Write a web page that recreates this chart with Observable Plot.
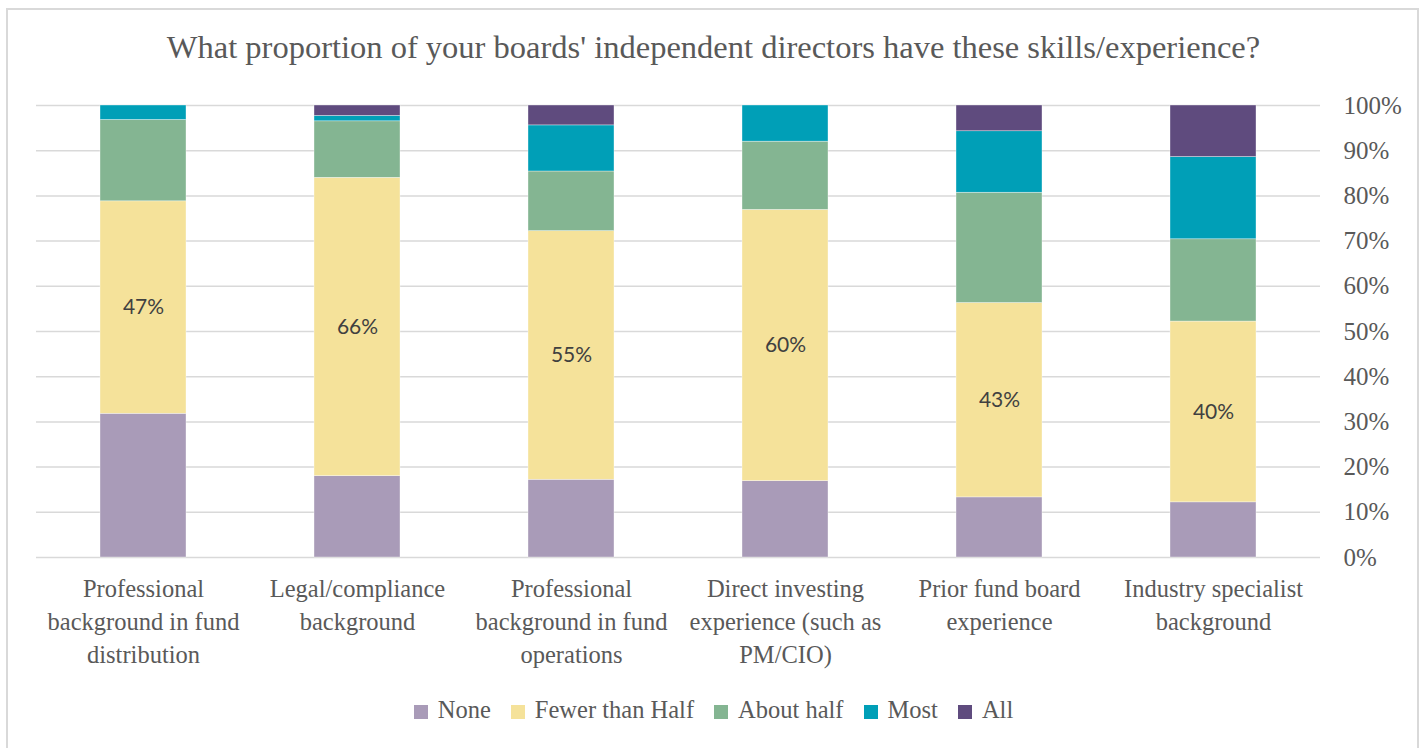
<!DOCTYPE html>
<html>
<head>
<meta charset="utf-8">
<script src="https://cdn.jsdelivr.net/npm/d3@7"></script>
<script src="https://cdn.jsdelivr.net/npm/@observablehq/plot@0.6"></script>
<style>
  html, body { margin: 0; padding: 0; background: #fff; width: 1427px; height: 748px; overflow: hidden; }
  #frame { position: absolute; left: 6px; top: 8px; width: 1413px; height: 760px; border: 2px solid #d9d9d9; box-sizing: border-box; }
  #title { position: absolute; left: 0; width: 1427px; top: 29px; text-align: center; font-family: "Liberation Serif", serif; font-size: 32.5px; color: #595959; white-space: nowrap; }
  #chart { position: absolute; left: 0; top: 85px; }
  #legend { position: absolute; left: 0; width: 1427px; top: 696px; display: flex; justify-content: center; font-family: "Liberation Serif", serif; font-size: 24.5px; color: #595959; }
  .item { display: flex; align-items: center; margin: 0 10px; }
  .sw { width: 14px; height: 14px; margin-right: 10px; margin-top: 4px; }
</style>
</head>
<body>
<div id="frame"></div>
<div id="title">What proportion of your boards' independent directors have these skills/experience?</div>
<div id="chart"></div>
<div id="legend"></div>
<script>
const categories = [
  "Professional background in fund distribution",
  "Legal/compliance background",
  "Professional background in fund operations",
  "Direct investing experience (such as PM/CIO)",
  "Prior fund board experience",
  "Industry specialist background"
];
const categoryLines = [
  "Professional\nbackground in fund\ndistribution",
  "Legal/compliance\nbackground",
  "Professional\nbackground in fund\noperations",
  "Direct investing\nexperience (such as\nPM/CIO)",
  "Prior fund board\nexperience",
  "Industry specialist\nbackground"
];
const seriesNames = ["None", "Fewer than Half", "About half", "Most", "All"];
const seriesColors = ["#a99bb8", "#f5e29a", "#84b592", "#009fb7", "#5f4b7e"];
const none        = [31.8, 18.0, 17.2, 16.9, 13.3, 12.2];
const fewerThanHalf = [47, 66, 55, 60, 43, 40];
const aboutHalf   = [18.0, 12.5, 13.2, 15.1, 24.4, 18.2];
const most        = [3.2, 1.2, 10.2, 8.0, 13.6, 18.2];
const all         = [0.0, 2.3, 4.4, 0.0, 5.7, 11.4];
const yTicks = [0, 0.1, 0.2, 0.3, 0.4, 0.5, 0.6, 0.7, 0.8, 0.9, 1.0];

const seriesValues = [none, fewerThanHalf, aboutHalf, most, all];
const data = [];
seriesNames.forEach((s, si) => {
  categories.forEach((c, ci) => {
    data.push({category: c, series: s, value: seriesValues[si][ci] / 100});
  });
});
const lineOf = new Map(categories.map((c, i) => [c, categoryLines[i]]));

const chart = Plot.plot({
  width: 1427,
  height: 600,
  marginLeft: 36,
  marginRight: 107,
  marginTop: 20,
  marginBottom: 128,
  style: { fontFamily: "Liberation Serif, serif", fontSize: "24.5px", color: "#595959", background: "transparent" },
  x: { domain: categories, paddingInner: 0.598, paddingOuter: 0.299, align: 0.5 },
  y: { domain: [0, 1], ticks: yTicks },
  color: { domain: seriesNames, range: seriesColors },
  marks: [
    Plot.gridY(yTicks, { stroke: "#d9d9d9", strokeOpacity: 1, strokeWidth: 1.5 }),
    Plot.barY(data, Plot.stackY({ x: "category", y: "value", z: "series", fill: "series", order: seriesNames, stroke: "#ffffff", strokeWidth: 0.6, strokeOpacity: 0.6 })),
    Plot.text(data, Plot.stackY({ x: "category", y: "value", z: "series", order: seriesNames,
      text: d => d.series === "Fewer than Half" ? Math.round(d.value * 100) + "%" : null,
      fill: "#404040", fontFamily: "Lato, sans-serif", fontSize: 21 })),
    Plot.axisY(yTicks, { anchor: "right", tickSize: 0, tickPadding: 23, textAnchor: "start", fontSize: 25, tickFormat: d => Math.round(d * 100) + "%", label: null }),
    Plot.axisX({ anchor: "bottom", tickSize: 0, tickPadding: 16, tickFormat: d => lineOf.get(d), lineHeight: 1.35, label: null })
  ]
});
document.getElementById("chart").appendChild(chart);

const legend = document.getElementById("legend");
seriesNames.forEach((s, i) => {
  const item = document.createElement("div");
  item.className = "item";
  const sw = document.createElement("span");
  sw.className = "sw";
  sw.style.background = seriesColors[i];
  const t = document.createElement("span");
  t.textContent = s;
  item.appendChild(sw);
  item.appendChild(t);
  legend.appendChild(item);
});
</script>
</body>
</html>
